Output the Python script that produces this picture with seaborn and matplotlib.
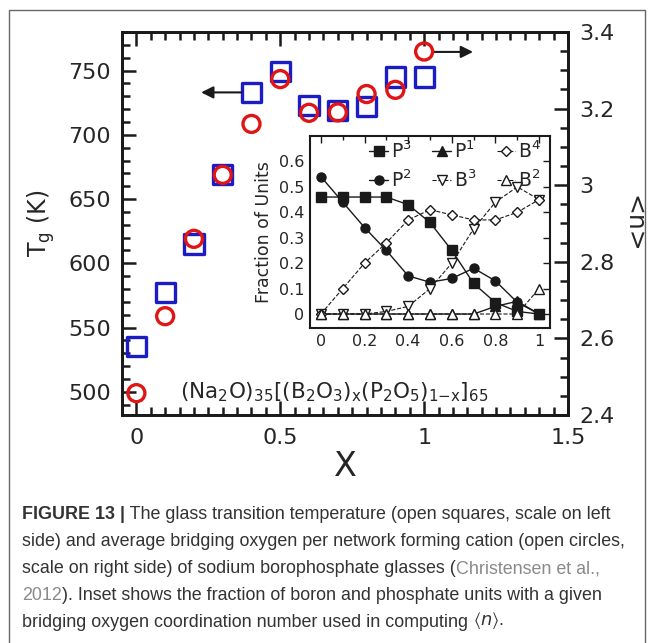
import numpy as np
import pandas as pd
import matplotlib
matplotlib.use("Agg")
import matplotlib.pyplot as plt
import seaborn as sns
from matplotlib.ticker import MultipleLocator
from matplotlib.patches import Rectangle

# ---------------- data ----------------
x_main = [0.0, 0.1, 0.2, 0.3, 0.4, 0.5, 0.6, 0.7, 0.8, 0.9, 1.0]
tg_K = [535, 577, 615, 669, 733, 749, 723, 719, 722, 745, 745]
n_avg = [2.457, 2.658, 2.86, 3.027, 3.16, 3.277, 3.189, 3.19, 3.238, 3.249, 3.349]

x_inset = [0.0, 0.1, 0.2, 0.3, 0.4, 0.5, 0.6, 0.7, 0.8, 0.9, 1.0]
p3 = [0.46, 0.46, 0.46, 0.46, 0.43, 0.36, 0.25, 0.12, 0.045, 0.01, 0.0]
p2 = [0.54, 0.44, 0.34, 0.25, 0.15, 0.125, 0.14, 0.18, 0.13, 0.046, 0.0]
p1 = [0.0, 0.0, 0.0, 0.0, 0.0, 0.0, 0.0, 0.0, 0.03, 0.05, 0.0]
b4 = [0.0, 0.10, 0.20, 0.28, 0.37, 0.41, 0.39, 0.37, 0.37, 0.40, 0.45]
b3 = [0.0, 0.0, 0.0, 0.01, 0.03, 0.10, 0.20, 0.335, 0.44, 0.50, 0.45]
b2 = [0.0, 0.0, 0.0, 0.0, 0.0, 0.0, 0.0, 0.0, 0.0, 0.0, 0.10]

x_ticks_main = [0, 0.5, 1, 1.5]
x_ticklabels_main = ["0", "0.5", "1", "1.5"]

caption_lines = [
    "side) and average bridging oxygen per network forming cation (open circles,",
    "bridging oxygen coordination number used in computing ",
]

# ---------------- style ----------------
sns.set_theme(style="white")
plt.rcParams["font.family"] = ["DejaVu Sans"]
plt.rcParams["mathtext.default"] = "regular"

W, H = 652, 643
fig = plt.figure(figsize=(W / 100, H / 100), dpi=100)
fig.patch.set_facecolor("white")

def fx(px):
    return px / W

def fy(py):
    return 1 - py / H

# main axes
ax = fig.add_axes([fx(122), fy(415), fx(568) - fx(122), fy(32) - fy(415)])
ax2 = ax.twinx()

sns.scatterplot(x=x_main, y=tg_K, marker="s", s=190, ax=ax,
                edgecolor="#1c1cc4", linewidth=2.4, zorder=3, legend=False)
ax.collections[-1].set_facecolor("none")
sns.scatterplot(x=x_main, y=n_avg, marker="o", s=150, ax=ax2,
                edgecolor="#e01515", linewidth=2.4, zorder=4, legend=False)
ax2.collections[-1].set_facecolor("none")

ax.set_xlim(-0.05, 1.5)
ax.set_ylim(482, 780)
ax2.set_ylim(2.4, 3.4)

ax.set_xticks(x_ticks_main)
ax.set_xticklabels(x_ticklabels_main)
ax.xaxis.set_minor_locator(MultipleLocator(0.05))
ax.yaxis.set_major_locator(MultipleLocator(50))
ax.yaxis.set_minor_locator(MultipleLocator(10))
ax2.yaxis.set_major_locator(MultipleLocator(0.2))
ax2.yaxis.set_minor_locator(MultipleLocator(0.05))
ax2.set_yticks([2.4, 2.6, 2.8, 3.0, 3.2, 3.4])
ax2.set_yticklabels(["2.4", "2.6", "2.8", "3", "3.2", "3.4"])

ax.tick_params(axis="x", which="both", direction="in", top=True, bottom=True,
               width=1.8, color="k")
ax.tick_params(axis="y", which="both", direction="in", left=True, right=False,
               width=1.8, color="k")
ax.tick_params(which="major", length=10)
ax.tick_params(which="minor", length=6)
ax.tick_params(axis="x", which="major", labelsize=16, pad=9)
ax.tick_params(axis="y", which="major", labelsize=16, pad=8)
ax2.tick_params(axis="y", which="both", direction="in", right=True, width=1.8,
                color="k")
ax2.tick_params(which="major", length=10, labelsize=16, pad=8)
ax2.tick_params(which="minor", length=6)

for a in (ax, ax2):
    for sp in a.spines.values():
        sp.set_linewidth(2)
        sp.set_color("k")
    a.grid(False)

ax.set_xlabel("X", fontsize=24, labelpad=2)
ax.set_ylabel("T$_g$ (K)", fontsize=17, labelpad=8)
ax2.set_ylabel("<n>", fontsize=18, rotation=270, labelpad=22)

ax.text(0.153, 500, r"(Na$_2$O)$_{35}$[(B$_2$O$_3$)$_x$(P$_2$O$_5$)$_{1\mathrm{-}x}$]$_{65}$",
        fontsize=15.5, va="center", ha="left")

ax.annotate("", xy=(0.225, 733), xytext=(0.365, 733),
            arrowprops=dict(arrowstyle="-|>", color="k", lw=1.5,
                            mutation_scale=18, shrinkA=0, shrinkB=0))
ax2.annotate("", xy=(1.17, 3.348), xytext=(1.035, 3.348),
             arrowprops=dict(arrowstyle="-|>", color="k", lw=1.5,
                             mutation_scale=18, shrinkA=0, shrinkB=0))

# inset
axin = fig.add_axes([fx(310), fy(328), fx(550) - fx(310), fy(136) - fy(328)])
axin.set_facecolor("white")
series = [
    ("P$^3$", p3, "s", "k", "-"),
    ("P$^2$", p2, "o", "k", "-"),
    ("P$^1$", p1, "^", "k", "-"),
    ("B$^3$", b3, "v", "white", "--"),
    ("B$^4$", b4, "D", "white", "--"),
    ("B$^2$", b2, "^", "white", "--"),
]
for lab, vals, mk, mfc, ls in series:
    sns.lineplot(x=x_inset, y=vals, ax=axin, marker=mk, color="k",
                 markerfacecolor=mfc, markeredgecolor="k", markeredgewidth=1.0,
                 markersize=6.5 if mk != "D" else 5.5, linewidth=1.0 if ls == "-" else 0.8,
                 linestyle=ls, label=lab, zorder=3 if ls == "-" else 4)
if axin.get_legend() is not None:
    axin.get_legend().remove()

axin.set_xlim(-0.05, 1.05)
axin.set_ylim(-0.055, 0.70)
axin.xaxis.set_major_locator(MultipleLocator(0.2))
axin.xaxis.set_minor_locator(MultipleLocator(0.1))
axin.yaxis.set_major_locator(MultipleLocator(0.1))
axin.set_xticks([0, 0.2, 0.4, 0.6, 0.8, 1.0])
axin.set_xticklabels(["0", "0.2", "0.4", "0.6", "0.8", "1"])
axin.set_yticks([0, 0.1, 0.2, 0.3, 0.4, 0.5, 0.6])
axin.set_yticklabels(["0", "0.1", "0.2", "0.3", "0.4", "0.5", "0.6"])
axin.tick_params(which="both", direction="in", top=True, right=True, width=1.0,
                 color="k")
axin.tick_params(which="major", length=5, labelsize=11.5, pad=4)
axin.tick_params(which="minor", length=3)
for sp in axin.spines.values():
    sp.set_linewidth(1.5)
    sp.set_color("k")
axin.set_xlabel("")
axin.set_ylabel("Fraction of Units", fontsize=12.5, labelpad=4)

handles, labels = axin.get_legend_handles_labels()
order = [labels.index(l) for l in ["P$^3$", "P$^2$", "P$^1$", "B$^3$", "B$^4$", "B$^2$"]]
axin.legend([handles[i] for i in order], [labels[i] for i in order], ncol=3,
            loc="upper left", bbox_to_anchor=(0.2, 1.035), frameon=False,
            fontsize=13.5, handlelength=1.0, handletextpad=0.15,
            columnspacing=1.1, labelspacing=0.4, borderaxespad=0.2)

# outer frame
fig.add_artist(Rectangle((fx(9), -0.05), fx(645) - fx(9), fy(10) + 0.05,
                         transform=fig.transFigure, fill=False,
                         edgecolor="#666666", lw=1.0))

# caption
cap_fs = 12.9
cap_col = "#333333"
gray = "#8a8a8a"
fam = ["Liberation Sans", "DejaVu Sans"]

t1 = fig.text(fx(22), fy(523), "FIGURE 13 |", fontsize=cap_fs, fontweight="bold",
              color=cap_col, va="bottom", ha="left", family=fam)
fig.add_artist(plt.Annotation(" The glass transition temperature (open squares, scale on left",
                              xy=(1, 0), xycoords=t1, va="bottom", ha="left",
                              fontsize=cap_fs, color=cap_col, family=fam))
fig.text(fx(22), fy(550), caption_lines[0], fontsize=cap_fs, color=cap_col,
         va="bottom", ha="left", family=fam)
t3 = fig.text(fx(22), fy(577), "scale on right side) of sodium borophosphate glasses (",
              fontsize=cap_fs, color=cap_col, va="bottom", ha="left", family=fam)
fig.add_artist(plt.Annotation("Christensen et al.,", xy=(1, 0), xycoords=t3,
                              va="bottom", ha="left", fontsize=cap_fs, color=gray,
                              family=fam))
t4 = fig.text(fx(22), fy(604), "2012", fontsize=cap_fs, color=gray,
              va="bottom", ha="left", family=fam)
fig.add_artist(plt.Annotation("). Inset shows the fraction of boron and phosphate units with a given",
                              xy=(1, 0), xycoords=t4, va="bottom", ha="left",
                              fontsize=cap_fs, color=cap_col, family=fam))
t5 = fig.text(fx(22), fy(631), caption_lines[1], fontsize=cap_fs, color=cap_col,
              va="bottom", ha="left", family=fam)
fig.add_artist(plt.Annotation(r"$\langle \mathit{n} \rangle$.", xy=(1, 0), xycoords=t5,
                              va="bottom", ha="left", fontsize=cap_fs, color=cap_col,
                              family=fam))

fig.savefig("out.png", dpi=100, facecolor="white")
